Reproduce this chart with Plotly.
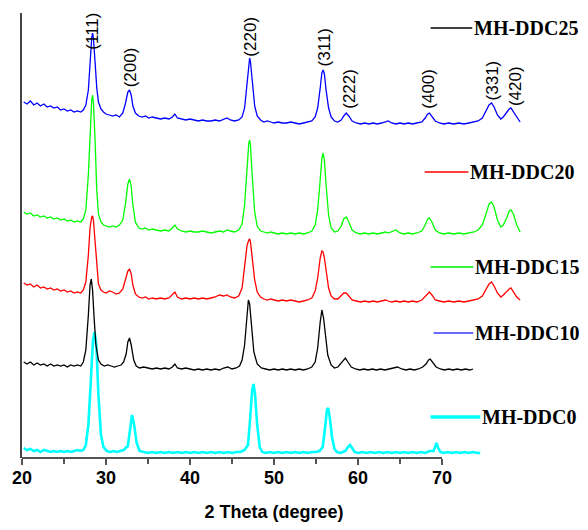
import plotly.graph_objects as go

# 2-theta grid shared by the three upper patterns (degrees)
two_theta_upper = [
    20.2, 20.6, 21.0, 21.4, 21.8, 22.2, 22.6, 23.0, 23.4, 23.8,
    24.2, 24.6, 25.0, 25.4, 25.8, 26.2, 26.6, 27.0, 27.3, 27.6,
    27.9, 28.1, 28.3, 28.4, 28.5, 28.7, 28.9, 29.1, 29.4, 29.7,
    30.0, 30.4, 30.8, 31.2, 31.6, 32.0, 32.3, 32.6, 32.8, 33.0,
    33.2, 33.5, 33.9, 34.3, 34.7, 35.1, 35.5, 36.0, 36.5, 37.0,
    37.5, 37.9, 38.2, 38.5, 39.0, 39.5, 40.0, 40.5, 41.0, 41.5,
    42.0, 42.5, 43.0, 43.5, 44.0, 44.4, 44.8, 45.3, 45.8, 46.2,
    46.5, 46.8, 47.0, 47.1, 47.2, 47.4, 47.7, 48.0, 48.4, 48.8,
    49.2, 49.6, 50.0, 50.5, 51.0, 51.5, 52.0, 52.5, 53.0, 53.5,
    54.0, 54.5, 54.9, 55.2, 55.5, 55.7, 55.85, 56.0, 56.2, 56.5,
    56.8, 57.2, 57.6, 58.0, 58.3, 58.6, 58.9, 59.3, 59.8, 60.3,
    60.8, 61.3, 61.8, 62.3, 62.8, 63.3, 63.6, 64.0, 64.5, 65.0,
    65.5, 66.0, 66.5, 67.0, 67.6, 68.0, 68.3, 68.5, 68.8, 69.2,
    69.7, 70.2, 70.8, 71.4, 72.0, 72.6, 73.2, 73.8, 74.3, 74.8,
    75.2, 75.6, 75.9, 76.2, 76.6, 77.0, 77.3, 77.7, 78.0, 78.2,
    78.5, 78.9, 79.3,
]

# Intensities (a.u., stacked) for MH-DDC25, MH-DDC20, MH-DDC15
intensity_ddc25 = [
    356, 354, 357, 353, 355, 352, 354, 351, 352, 350,
    351, 348, 349, 347, 348, 346, 347, 346, 348, 353,
    368, 398, 420, 425, 420, 396, 370, 356, 349, 346,
    344, 343, 342, 343, 341, 345, 354, 366, 368, 363,
    352, 345, 342, 341, 342, 340, 341, 340, 339, 340,
    339, 341, 344, 340, 339, 338, 339, 338, 337, 338,
    337, 337, 338, 337, 339, 340, 338, 337, 338, 341,
    350, 376, 396, 400, 396, 376, 352, 342, 338, 336,
    337, 336, 335, 336, 335, 335, 336, 335, 334, 335,
    336, 337, 341, 350, 370, 385, 388, 384, 368, 350,
    341, 337, 336, 338, 342, 345, 342, 337, 335, 334,
    335, 334, 335, 334, 335, 336, 337, 335, 334, 335,
    334, 335, 334, 335, 336, 340, 344, 345, 342, 337,
    335, 334, 335, 334, 335, 334, 335, 336, 337, 340,
    346, 353, 355, 351, 343, 339, 341, 346, 349, 350,
    346, 340, 336,
]

intensity_ddc20 = [
    246, 244, 245, 242, 243, 241, 242, 240, 241, 239,
    240, 238, 239, 237, 238, 236, 237, 236, 239, 248,
    283, 328, 358, 363, 356, 318, 268, 244, 236, 233,
    232, 231, 232, 231, 233, 238, 253, 274, 279, 272,
    253, 236, 230, 229, 230, 228, 229, 228, 227, 228,
    227, 230, 233, 229, 227, 226, 227, 226, 226, 227,
    226, 225, 226, 227, 226, 228, 227, 226, 228, 234,
    253, 293, 315, 318, 313, 283, 246, 232, 227, 226,
    225, 226, 225, 224, 225, 224, 225, 224, 225, 224,
    225, 227, 233, 248, 278, 300, 305, 298, 273, 243,
    230, 226, 227, 232, 239, 241, 236, 228, 225, 224,
    225, 224, 225, 224, 225, 226, 225, 226, 228, 225,
    224, 225, 224, 225, 227, 233, 239, 240, 236, 228,
    225, 224, 225, 224, 225, 224, 225, 226, 228, 233,
    243, 254, 256, 251, 238, 231, 233, 240, 247, 248,
    244, 233, 226,
]

intensity_ddc15 = [
    175, 173, 174, 171, 173, 170, 171, 169, 170, 168,
    169, 167, 168, 166, 167, 165, 166, 165, 168, 176,
    203, 230, 241, 242, 238, 218, 190, 174, 168, 166,
    165, 167, 166, 164, 165, 169, 178, 187, 189, 184,
    173, 164, 161, 160, 161, 159, 160, 159, 160, 159,
    160, 163, 166, 161, 159, 160, 159, 160, 159, 160,
    159, 160, 161, 163, 162, 163, 161, 160, 162, 170,
    190, 213, 218, 219, 216, 203, 178, 166, 161, 159,
    158, 159, 158, 157, 158, 157, 158, 157, 156, 157,
    158, 160, 167, 180, 200, 207, 206, 200, 186, 170,
    162, 159, 159, 162, 165, 165, 162, 158, 157, 156,
    157, 156, 157, 156, 157, 158, 157, 156, 157, 156,
    157, 156, 157, 156, 158, 162, 165, 166, 163, 158,
    157, 156, 157, 156, 157, 156, 157, 158, 159, 162,
    168, 174, 176, 172, 165, 161, 163, 167, 169, 170,
    166, 161, 158,
]

# MH-DDC10 pattern
two_theta_ddc10 = [
    20.2, 20.6, 21.0, 21.4, 21.8, 22.2, 22.6, 23.0, 23.4, 23.8,
    24.2, 24.6, 25.0, 25.4, 25.8, 26.2, 26.6, 27.0, 27.3, 27.6,
    27.9, 28.1, 28.25, 28.4, 28.6, 28.8, 29.1, 29.4, 29.8, 30.2,
    30.6, 31.0, 31.4, 31.8, 32.1, 32.4, 32.6, 32.8, 33.0, 33.3,
    33.6, 34.0, 34.5, 35.0, 35.5, 36.0, 36.5, 37.0, 37.5, 37.9,
    38.2, 38.5, 39.0, 39.5, 40.0, 40.5, 41.0, 41.5, 42.0, 42.5,
    43.0, 43.5, 44.0, 44.5, 45.0, 45.5, 45.9, 46.2, 46.5, 46.8,
    46.95, 47.1, 47.3, 47.6, 48.0, 48.5, 49.0, 49.5, 50.0, 50.5,
    51.0, 51.5, 52.0, 52.5, 53.0, 53.5, 54.0, 54.5, 54.9, 55.2,
    55.5, 55.7, 55.9, 56.1, 56.4, 56.8, 57.2, 57.6, 58.0, 58.3,
    58.5, 58.8, 59.2, 59.7, 60.2, 60.7, 61.2, 61.7, 62.2, 62.7,
    63.2, 63.7, 64.2, 64.7, 65.2, 65.7, 66.2, 66.7, 67.2, 67.7,
    68.1, 68.4, 68.6, 68.9, 69.3, 69.8, 70.3, 70.8, 71.3, 71.8,
    72.3, 72.8, 73.3, 73.7,
]
intensity_ddc10 = [
    96, 94, 96, 93, 95, 93, 94, 92, 94, 92,
    93, 92, 93, 91, 93, 92, 93, 92, 96, 108,
    143, 173, 179, 168, 138, 113, 98, 94, 92, 93,
    92, 91, 92, 93, 96, 104, 116, 120, 113, 98,
    92, 90, 91, 90, 89, 90, 89, 90, 89, 91,
    94, 90, 89, 90, 89, 88, 89, 88, 89, 88,
    89, 88, 90, 91, 89, 90, 92, 98, 113, 143,
    158, 154, 133, 106, 94, 90, 89, 88, 89, 88,
    89, 88, 89, 88, 89, 88, 89, 91, 96, 110,
    136, 148, 140, 123, 103, 93, 90, 91, 95, 99,
    100, 96, 91, 89, 88, 89, 88, 89, 88, 89,
    88, 89, 90, 91, 89, 88, 89, 88, 89, 91,
    94, 98, 99, 96, 91, 89, 88, 89, 88, 89,
    88, 89, 88, 89,
]

# MH-DDC0 pattern
two_theta_ddc0 = [
    20.2, 20.6, 21.0, 21.4, 21.8, 22.2, 22.6, 23.0, 23.4, 23.8,
    24.2, 24.6, 25.0, 25.4, 25.8, 26.2, 26.6, 27.0, 27.3, 27.6,
    27.9, 28.2, 28.45, 28.64, 28.85, 29.1, 29.4, 29.7, 30.1, 30.5,
    30.9, 31.3, 31.7, 32.1, 32.6, 32.85, 33.1, 33.35, 33.65, 34.0,
    34.5, 35.0, 35.5, 36.0, 36.5, 37.0, 37.5, 38.0, 38.5, 39.0,
    39.5, 40.0, 40.5, 41.0, 41.5, 42.0, 42.5, 43.0, 43.5, 44.0,
    44.5, 45.0, 45.5, 46.0, 46.5, 46.9, 47.15, 47.4, 47.57, 47.75,
    48.0, 48.3, 48.6, 49.0, 49.5, 50.0, 50.5, 51.0, 51.5, 52.0,
    52.5, 53.0, 53.5, 54.0, 54.5, 55.0, 55.4, 55.8, 56.05, 56.3,
    56.45, 56.65, 56.9, 57.2, 57.5, 57.9, 58.2, 58.5, 58.8, 59.05,
    59.3, 59.6, 60.0, 60.5, 61.0, 61.5, 62.0, 62.5, 63.0, 63.5,
    64.0, 64.5, 65.0, 65.5, 66.0, 66.5, 67.0, 67.5, 68.0, 68.5,
    69.0, 69.2, 69.35, 69.5, 69.8, 70.2, 70.7, 71.2, 71.7, 72.2,
    72.7, 73.2, 73.7, 74.2, 74.55,
]
intensity_ddc0 = [
    10, 8, 9, 7, 8, 6, 8, 7, 6, 7,
    6, 7, 6, 7, 6, 7, 8, 7, 8, 13,
    33, 78, 118, 126, 113, 63, 23, 11, 7, 6,
    7, 6, 7, 8, 12, 28, 43, 33, 15, 7,
    6, 5, 6, 5, 6, 5, 6, 5, 6, 5,
    6, 5, 6, 5, 6, 5, 6, 5, 6, 5,
    6, 5, 6, 6, 8, 13, 38, 68, 74, 63,
    33, 11, 6, 5, 6, 5, 6, 5, 6, 5,
    6, 5, 6, 5, 6, 6, 7, 11, 28, 48,
    50, 40, 21, 9, 6, 5, 6, 7, 11, 13,
    10, 6, 5, 6, 5, 6, 5, 6, 5, 6,
    5, 6, 5, 6, 5, 6, 5, 6, 5, 7,
    7, 12, 15, 11, 6, 5, 6, 5, 6, 5,
    6, 5, 6, 5, 5,
]

# Miller-index labels: (hkl, 2-theta, label height in a.u.)
hkl_labels = ["(111)", "(200)", "(220)", "(311)", "(222)", "(400)", "(331)", "(420)"]
hkl_theta = [28.3, 32.9, 47.1, 56.0, 58.9, 68.3, 76.0, 78.7]
hkl_height = [427, 391, 421, 411, 369, 369, 378, 372]

# Sample labels with their key colours, key span (2-theta) and height (a.u.)
sample_names = ["MH-DDC25", "MH-DDC20", "MH-DDC15", "MH-DDC10", "MH-DDC0"]
key_colors = ["#000000", "#ff0000", "#00ee00", "#6a6aff", "#00ffff"]
key_start = [68.64, 67.94, 68.64, 69.0, 68.64]
key_end = [73.6, 73.14, 73.73, 73.73, 74.56]
key_height = [430, 286, 191, 125, 41]
key_width = [1.5, 1.5, 1.5, 2, 3.5]

fig = go.Figure()

series = [
    (two_theta_ddc0, intensity_ddc0, "MH-DDC0", "#00ffff", 2.6),
    (two_theta_ddc10, intensity_ddc10, "MH-DDC10", "#000000", 1.3),
    (two_theta_upper, intensity_ddc15, "MH-DDC15", "#ff0000", 1.3),
    (two_theta_upper, intensity_ddc20, "MH-DDC20", "#00ff00", 1.3),
    (two_theta_upper, intensity_ddc25, "MH-DDC25", "#0000ff", 1.3),
]
for x, y, name, color, width in series:
    fig.add_trace(go.Scatter(x=x, y=y, mode="lines", name=name,
                             line=dict(color=color, width=width),
                             showlegend=False))

annotations = []
for text, tx, ty in zip(hkl_labels, hkl_theta, hkl_height):
    annotations.append(dict(x=tx, y=ty, text=text, textangle=-90, showarrow=False,
                            xanchor="center", yanchor="middle",
                            font=dict(family="Liberation Sans", size=17, color="#000")))

shapes = []
for name, c, x0, x1, h, w in zip(sample_names, key_colors, key_start, key_end,
                                 key_height, key_width):
    shapes.append(dict(type="line", xref="x", yref="y", x0=x0, x1=x1, y0=h, y1=h,
                       line=dict(color=c, width=w)))
    annotations.append(dict(x=x1, y=h, text=name, showarrow=False,
                            xanchor="left", yanchor="middle",
                            font=dict(family="Liberation Serif", size=20,
                                      color="#000", weight="bold")))

# bottom axis line only spans the ticked range
shapes.append(dict(type="line", xref="x", yref="paper", x0=20, x1=70, y0=0, y1=0,
                   line=dict(color="#555", width=2)))

fig.update_layout(
    width=588, height=530,
    margin=dict(l=19, r=62, t=13, b=72),
    paper_bgcolor="white", plot_bgcolor="white",
    annotations=annotations, shapes=shapes,
    xaxis=dict(range=[20, 80], showline=False, showgrid=False, zeroline=False,
               tickmode="array", tickvals=[20, 30, 40, 50, 60, 70],
               ticks="outside", ticklen=6, tickwidth=2, tickcolor="#555",
               ticklabelstandoff=-3,
               minor=dict(tickvals=[25, 35, 45, 55, 65], ticks="outside",
                          ticklen=5, tickwidth=2, tickcolor="#555"),
               tickfont=dict(family="Liberation Sans", size=18, color="#000",
                             weight="bold"),
               title=dict(text="2 Theta (degree)", standoff=18,
                          font=dict(family="Liberation Sans", size=18, color="#000",
                                    weight="bold"))),
    yaxis=dict(range=[0, 445], showline=True, linecolor="#444", linewidth=2,
               showgrid=False, zeroline=False, showticklabels=False, ticks=""),
)

fig.write_html("out.html")
